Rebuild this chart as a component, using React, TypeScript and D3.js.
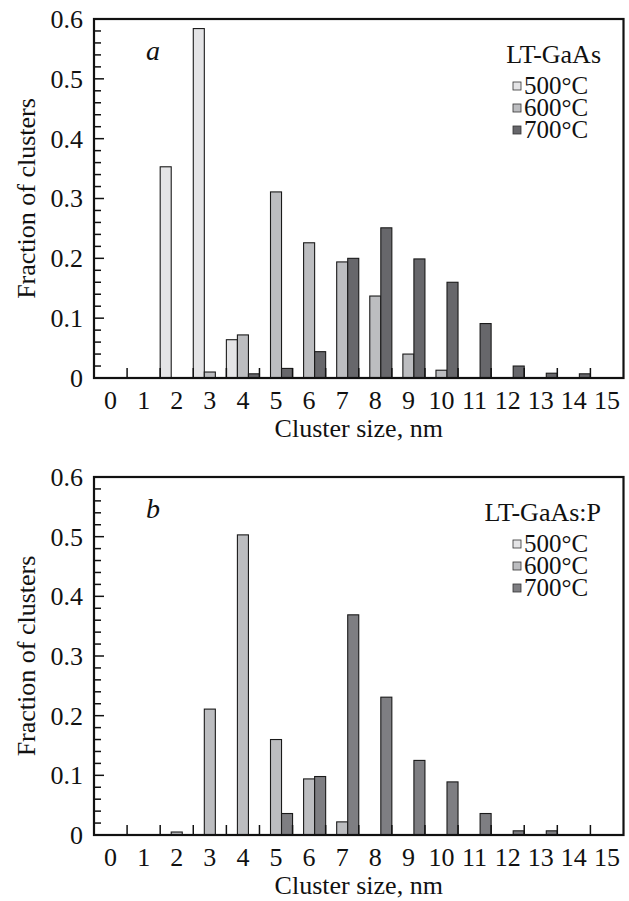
import React, { useEffect, useRef } from "react";
import * as d3 from "d3";

// cluster sizes (nm) on the x axis
const sizes = [0, 1, 2, 3, 4, 5, 6, 7, 8, 9, 10, 11, 12, 13, 14, 15];
const temps = ["500°C", "600°C", "700°C"];
const yTicks = [0, 0.1, 0.2, 0.3, 0.4, 0.5, 0.6];

// panel a: LT-GaAs
const gaAs500 = [0, 0, 0.353, 0.584, 0.064, 0, 0, 0, 0, 0, 0, 0, 0, 0, 0, 0];
const gaAs600 = [0, 0, 0, 0.01, 0.072, 0.311, 0.226, 0.194, 0.137, 0.04, 0.013, 0, 0, 0, 0, 0];
const gaAs700 = [0, 0, 0, 0, 0.007, 0.016, 0.044, 0.2, 0.251, 0.199, 0.16, 0.091, 0.02, 0.008, 0.007, 0];

// panel b: LT-GaAs:P
const gaAsP500 = [0, 0, 0, 0, 0, 0, 0, 0, 0, 0, 0, 0, 0, 0, 0, 0];
const gaAsP600 = [0, 0, 0.005, 0.211, 0.503, 0.16, 0.094, 0.022, 0, 0, 0, 0, 0, 0, 0, 0];
const gaAsP700 = [0, 0, 0, 0, 0, 0.036, 0.098, 0.369, 0.231, 0.125, 0.089, 0.036, 0.007, 0.007, 0, 0];

const W = 629;
const H = 901;
const FONT = "'Liberation Serif', 'Times New Roman', serif";

const panels = [
  { letter: "a", title: "LT-GaAs", top: 19, bottom: 378, series: [gaAs500, gaAs600, gaAs700], colors: ["#e4e4e6", "#bcbdc0", "#67676b"] },
  { letter: "b", title: "LT-GaAs:P", top: 477, bottom: 835, series: [gaAsP500, gaAsP600, gaAsP700], colors: ["#e4e4e6", "#bcbdc0", "#7e7e82"] },
];

export default function App() {
  const ref = useRef<SVGSVGElement>(null);

  useEffect(() => {
    const svg = d3.select(ref.current);
    svg.selectAll("*").remove();

    const left = 94;
    const right = 623.5;
    const x = d3.scaleLinear().domain([-0.5, 15.5]).range([left, right]);
    const step = x(1) - x(0);
    const bw = step / 3;

    panels.forEach((p) => {
      const y = d3.scaleLinear().domain([0, 0.6]).range([p.bottom, p.top]);
      const g = svg.append("g");

      // bars, three per size, zero values left out
      p.series.forEach((vals, si) => {
        g.append("g")
          .selectAll("rect")
          .data(sizes.filter((s, i) => vals[i] > 0))
          .join("rect")
          .attr("x", (s) => x(s - 0.5) + si * bw)
          .attr("y", (s) => y(vals[sizes.indexOf(s)]))
          .attr("width", bw)
          .attr("height", (s) => p.bottom - y(vals[sizes.indexOf(s)]))
          .attr("fill", p.colors[si])
          .attr("stroke", "#1a1a1a")
          .attr("stroke-width", 1.1);
      });

      // x half-step ticks pointing up
      g.append("g")
        .selectAll("line")
        .data(sizes.slice(0, 15))
        .join("line")
        .attr("x1", (s) => x(s + 0.5))
        .attr("x2", (s) => x(s + 0.5))
        .attr("y1", p.bottom)
        .attr("y2", p.bottom - 10)
        .attr("stroke", "#111")
        .attr("stroke-width", 1.5);

      // y minor / major ticks pointing in
      const minor = y.ticks(30);
      g.append("g")
        .selectAll("line")
        .data(minor)
        .join("line")
        .attr("x1", left)
        .attr("x2", (d) => left + (yTicks.some((t) => Math.abs(t - d) < 1e-6) ? 10 : 7))
        .attr("y1", (d) => y(d))
        .attr("y2", (d) => y(d))
        .attr("stroke", "#111")
        .attr("stroke-width", 1.5);

      // frame
      g.append("rect")
        .attr("x", left)
        .attr("y", p.top)
        .attr("width", right - left)
        .attr("height", p.bottom - p.top)
        .attr("fill", "none")
        .attr("stroke", "#111")
        .attr("stroke-width", 2.2);

      // y tick labels
      g.append("g")
        .selectAll("text")
        .data(yTicks)
        .join("text")
        .attr("x", 83)
        .attr("y", (d) => y(d))
        .attr("dy", "0.34em")
        .attr("text-anchor", "end")
        .attr("font-family", FONT)
        .attr("font-size", 26)
        .attr("fill", "#111")
        .text((d) => (d === 0 ? "0" : d.toFixed(1)));

      // x tick labels
      g.append("g")
        .selectAll("text")
        .data(sizes)
        .join("text")
        .attr("x", (s) => x(s))
        .attr("y", p.bottom + 31)
        .attr("text-anchor", "middle")
        .attr("font-family", FONT)
        .attr("font-size", 26)
        .attr("fill", "#111")
        .text((s) => s);

      g.append("text")
        .attr("x", (left + right) / 2)
        .attr("y", p.bottom + 59)
        .attr("text-anchor", "middle")
        .attr("font-family", FONT)
        .attr("font-size", 26)
        .attr("fill", "#111")
        .text("Cluster size, nm");

      g.append("text")
        .attr("transform", `translate(35,${(p.top + p.bottom) / 2}) rotate(-90)`)
        .attr("text-anchor", "middle")
        .attr("font-family", FONT)
        .attr("font-size", 26)
        .attr("fill", "#111")
        .text("Fraction of clusters");

      // panel letter
      g.append("text")
        .attr("x", 153)
        .attr("y", p.top + 41)
        .attr("text-anchor", "middle")
        .attr("font-family", FONT)
        .attr("font-style", "italic")
        .attr("font-size", 28)
        .attr("fill", "#111")
        .text(p.letter);

      // legend
      g.append("text")
        .attr("x", 601)
        .attr("y", p.top + 44)
        .attr("text-anchor", "end")
        .attr("font-family", FONT)
        .attr("font-size", 26)
        .attr("fill", "#111")
        .text(p.title);

      temps.forEach((t, i) => {
        const by = p.top + 75 + i * 22;
        g.append("rect")
          .attr("x", 513)
          .attr("y", by - 12)
          .attr("width", 8)
          .attr("height", 8)
          .attr("fill", p.colors[i])
          .attr("stroke", "#333")
          .attr("stroke-width", 0.8);
        g.append("text")
          .attr("x", 524)
          .attr("y", by)
          .attr("font-family", FONT)
          .attr("font-size", 25)
          .attr("fill", "#111")
          .text(t);
      });
    });
  }, []);

  return (
    <div style={{ position: "absolute", left: 0, top: 0, background: "#fff" }}>
      <svg ref={ref} width={W} height={H} viewBox={`0 0 ${W} ${H}`} style={{ display: "block" }} />
    </div>
  );
}
